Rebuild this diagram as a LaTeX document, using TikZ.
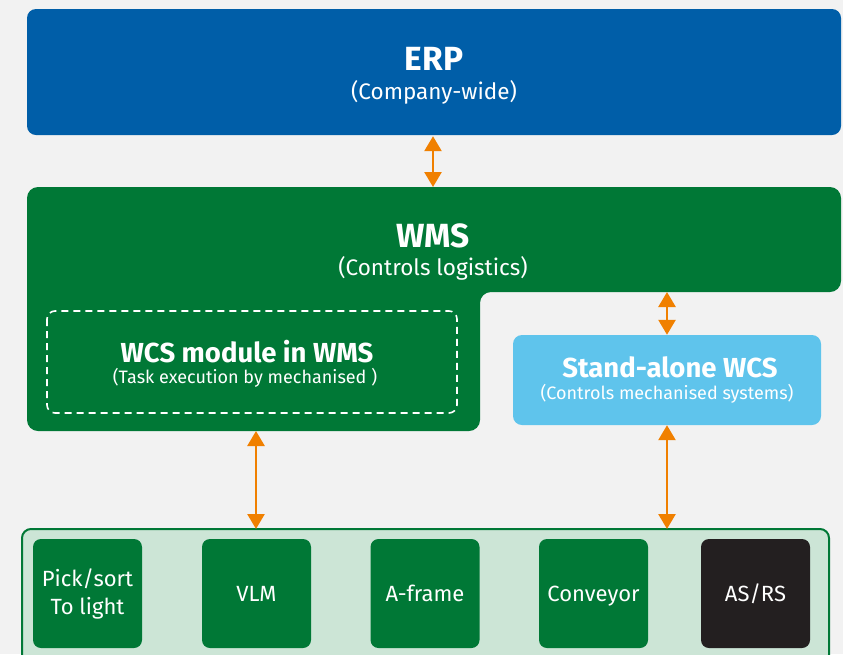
\documentclass[tikz,border=0pt]{standalone}
\usepackage{fontspec}
\setmainfont{Fira Sans}
\usetikzlibrary{arrows.meta}
\definecolor{bgc}{HTML}{F2F2F2}
\definecolor{erpblue}{HTML}{005EA8}
\definecolor{wmsgreen}{HTML}{007836}
\definecolor{wcsblue}{HTML}{5FC4EC}
\definecolor{paleg}{HTML}{CCE5D6}
\definecolor{darkbox}{HTML}{231F20}
\definecolor{linkorange}{HTML}{F08000}
\tikzset{
  bigtitle/.style={font=\bfseries\fontsize{33.5}{36}\selectfont, text=white},
  bigsub/.style={font=\fontsize{22.5}{26}\selectfont, text=white},
  midtitle/.style={font=\bfseries\fontsize{27.5}{30}\selectfont, text=white},
  midsub/.style={font=\fontsize{18}{21}\selectfont, text=white},
  link/.style={draw=linkorange, line width=2.6pt,
    {Triangle[width=17pt,length=15pt]}-{Triangle[width=17pt,length=15pt]}},
  unit/.style={rounded corners=8pt, minimum width=109pt, minimum height=109pt,
    inner sep=0pt, fill=wmsgreen, text=white, align=center,
    font=\fontsize{22}{28}\selectfont},
  oneline/.style={text height=18pt, text depth=3pt},
}
\begin{document}
\begin{tikzpicture}[x=1pt,y=-1pt]
  \fill[bgc] (0,0) rectangle (843,654);
  \useasboundingbox (0,0) rectangle (843,654);

  % ERP
  \node[fill=erpblue, rounded corners=9pt, minimum width=814pt, minimum height=126pt,
        inner sep=0pt] (erp) at (434,72) {};
  \node[bigtitle] at (434,59) {ERP};
  \node[bigsub] at (434,92) {(Company-wide)};

  % WMS with notch
  \fill[wmsgreen, rounded corners=11pt]
    (27,187) -- (841,187) -- (841,292) -- (480,292) -- (480,431) -- (27,431) -- cycle;
  \coordinate (wmstop) at (433,187);
  \coordinate (wmsright) at (667,292);
  \coordinate (wcsmodbot) at (256,431);
  \node[bigtitle] (wms) at (433,236) {WMS};
  \node[bigsub] at (433,268) {(Controls logistics)};

  % WCS module inside WMS
  \draw[white, line width=1.6pt, dash pattern=on 7pt off 5pt, rounded corners=8pt]
    (47,311) rectangle (457,413);
  \node[midtitle] (wcsmod) at (247,352) {WCS module in WMS};
  \node[midsub] at (245,378) {(Task execution by mechanised )};

  % Stand-alone WCS
  \node[fill=wcsblue, rounded corners=9pt, minimum width=308pt, minimum height=90pt,
        inner sep=0pt] (wcs) at (667,380) {};
  \node[midtitle] at (670,367) {Stand-alone WCS};
  \node[midsub] at (667,394) {(Controls mechanised systems)};

  % Equipment strip
  \draw[fill=paleg, draw=wmsgreen, line width=2pt, rounded corners=9pt]
    (22,529) rectangle (829,664);
  \coordinate (stripA) at (256,529);
  \coordinate (stripB) at (667,529);
  \node[unit] (pick) at (87.5,593.5) {Pick/sort\\To light};
  \node[unit, oneline] (vlm) at (256.5,593.5) {VLM};
  \node[unit, oneline] (aframe) at (425,593.5) {A-frame};
  \node[unit, oneline] (conv) at (593.5,593.5) {Conveyor};
  \node[unit, oneline, fill=darkbox] (asrs) at (755.5,593.5) {AS/RS};

  % Links
  \draw[link] (erp.south -| wmstop) ++(0,1) -- (wmstop);
  \draw[link] (wmsright) -- (wcs.north);
  \draw[link] (wcsmodbot) -- (stripA);
  \draw[link] (wcs.south) -- (stripB);
\end{tikzpicture}
\end{document}
